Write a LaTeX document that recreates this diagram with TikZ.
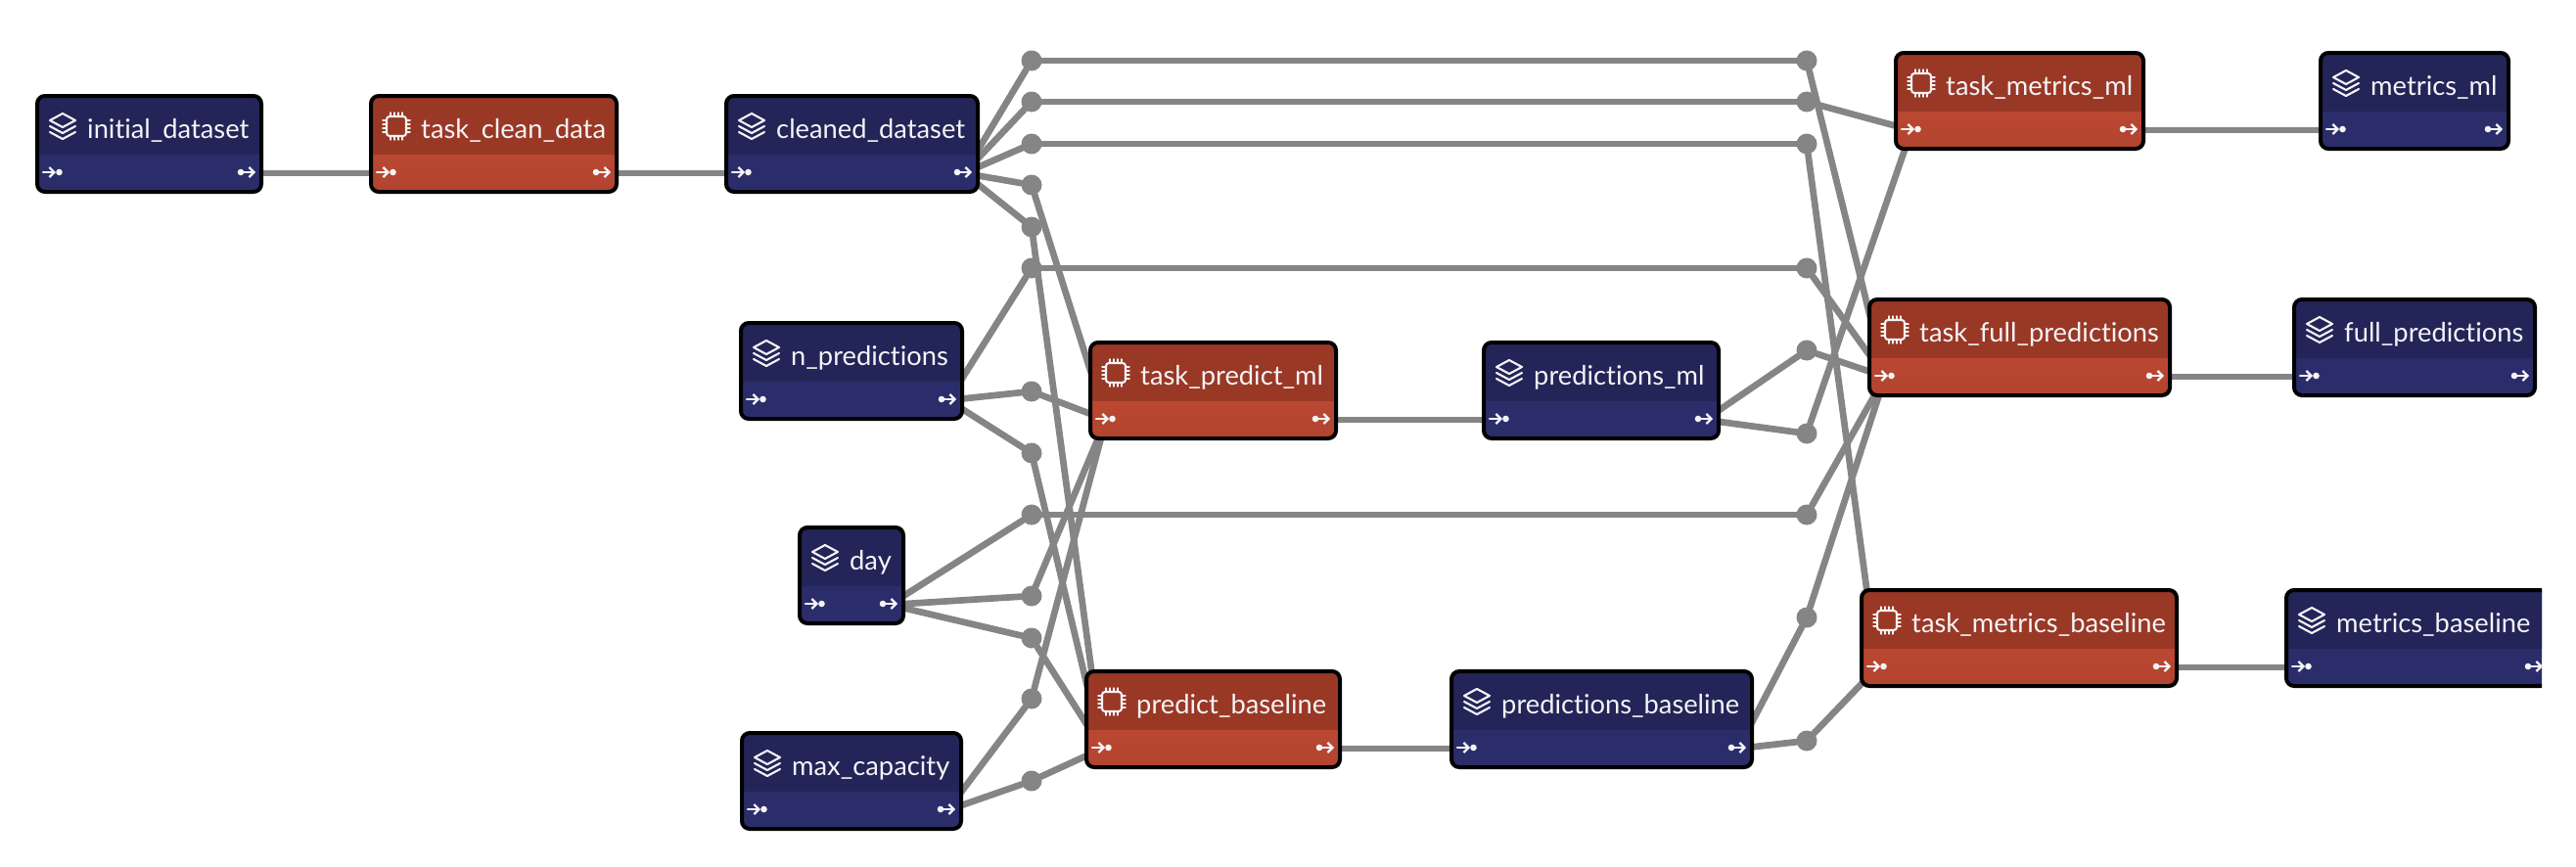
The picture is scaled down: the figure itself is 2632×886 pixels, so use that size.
\documentclass[tikz,border=0pt]{standalone}
\usepackage{fontspec}
\setmainfont{Lato}[Ligatures=NoCommon]
\usetikzlibrary{arrows.meta,backgrounds}
\definecolor{datatop}{HTML}{232558}
\definecolor{datalow}{HTML}{2B2D6B}
\definecolor{tasktop}{HTML}{9A3826}
\definecolor{tasklow}{HTML}{C74D36}
\definecolor{tasklowb}{HTML}{B2442F}
\definecolor{edgegray}{HTML}{858585}
\definecolor{inktext}{HTML}{F4F4F6}
\tikzset{
	databox/.style={draw=black, line width=4pt, rounded corners=8pt, inner sep=0pt,
		path picture={
			\fill[datalow, sharp corners] (path picture bounding box.south west) rectangle (path picture bounding box.north east);
			\fill[datatop, sharp corners] (path picture bounding box.north west) rectangle ([yshift=-60pt]path picture bounding box.north east);
		}},
	taskbox/.style={draw=black, line width=4pt, rounded corners=8pt, inner sep=0pt,
		path picture={
			\shade[sharp corners, top color=tasklow, bottom color=tasklowb] ([yshift=-60pt]path picture bounding box.north west) rectangle (path picture bounding box.south east);
			\fill[tasktop, sharp corners] (path picture bounding box.north west) rectangle ([yshift=-60pt]path picture bounding box.north east);
		}},
	dotnode/.style={circle, fill=edgegray, minimum size=21pt, inner sep=0pt},
	edge/.style={draw=edgegray, line width=6.7pt, line cap=round},
	nametext/.style={text=inktext, anchor=base west, inner sep=0pt, font=\fontsize{27.3}{32}\selectfont},
	iconline/.style={draw=inktext, line width=2.1pt, line join=round, line cap=round},
	pics/dataicon/.style={code={
		\draw[iconline] (0,-13)--(13,-6)--(0,1)--(-13,-6)--cycle;
		\draw[iconline] (-13,0)--(0,7)--(13,0);
		\draw[iconline] (-13,6)--(0,13)--(13,6);
	}},
	pics/taskicon/.style={code={
		\draw[iconline, rounded corners=3pt] (-10,-10) rectangle (10,10);
		\foreach \p in {-6,-2,2,6} {
			\draw[iconline, line width=1.4pt] (\p,-10)--(\p,-14) (\p,10)--(\p,14);
			\draw[iconline, line width=1.4pt] (-10,\p)--(-14,\p) (10,\p)--(14,\p);
		}
	}},
	pics/inport/.style={code={
		\draw[iconline, line width=2.2pt, -{Straight Barb[length=5pt,width=10pt]}] (-13,0)--(0,0);
		\fill[inktext] (3.5,0) circle (3.3);
	}},
	pics/outport/.style={code={
		\fill[inktext] (-4,0) circle (3.3);
		\draw[iconline, line width=2.2pt, -{Straight Barb[length=5pt,width=10pt]}] (-4,0)--(11,0);
	}},
}
\begin{document}
\begin{tikzpicture}[x=1pt, y=-1pt]
	\useasboundingbox (0,0) rectangle (2632,886);
	\clip (0,0) rectangle (2597,886);
	% boxes
	\foreach \nm/\xa/\xb/\yt/\kind/\txt in {
		initial/36/269/96/data/initial\_dataset,
		clean/377/632/96/task/task\_clean\_data,
		cleaned/740/1001/96/data/cleaned\_dataset,
		npred/755/985/328/data/n\_predictions,
		day/815/925/537/data/day,
		maxcap/756/984/747/data/max\_capacity,
		predml/1112/1367/348/task/task\_predict\_ml,
		predbase/1108/1371/684/task/predict\_baseline,
		outml/1514/1758/348/data/predictions\_ml,
		outbase/1481/1792/684/data/predictions\_baseline,
		metml/1935/2192/52/task/task\_metrics\_ml,
		fullp/1908/2219/304/task/task\_full\_predictions,
		metbase/1900/2226/601/task/task\_metrics\_baseline,
		resml/2369/2565/52/data/metrics\_ml,
		resfull/2342/2592/304/data/full\_predictions,
		resbase/2334/2606/601/data/metrics\_baseline%
	} {
		\node[\kind box, minimum width={(\xb-\xa-4)*1pt}, minimum height=98pt] (\nm) at ({(\xa+\xb)/2},{\yt+51}) {};
		\node[nametext] (\nm-text) at (\xa+53,\yt+45) {\txt};
		\pic at (\xa+28,\yt+33) {\kind icon};
		\pic at (\xa+21,\yt+80) {inport};
		\pic at (\xb-19,\yt+80) {outport};
		\coordinate (\nm-in) at (\xa+18,\yt+81);
		\coordinate (\nm-out) at (\xb-16,\yt+81);
	}
	% junction dots
	\foreach \y in {62,104,147,189,232,274,400,463,526,609,652,714,798}
		\node[dotnode] (l\y) at (1054,\y) {};
	\foreach \y in {62,104,147,274,358,443,526,631,757}
		\node[dotnode] (r\y) at (1846,\y) {};
	% connectors, behind the boxes
	\begin{pgfonlayer}{background}
		\foreach \a/\b in {
			initial-out/clean-in, clean-out/cleaned-in,
			cleaned-out/l62, cleaned-out/l104, cleaned-out/l147, cleaned-out/l189, cleaned-out/l232,
			npred-out/l274, npred-out/l400, npred-out/l463,
			day-out/l526, day-out/l609, day-out/l652,
			maxcap-out/l714, maxcap-out/l798,
			l62/r62, l104/r104, l147/r147, l274/r274, l526/r526,
			l189/predml-in, l400/predml-in, l609/predml-in, l714/predml-in,
			l232/predbase-in, l463/predbase-in, l652/predbase-in, l798/predbase-in,
			predml-out/outml-in, predbase-out/outbase-in,
			outml-out/r358, outml-out/r443,
			outbase-out/r631, outbase-out/r757,
			r104/metml-in, r443/metml-in,
			r62/fullp-in, r274/fullp-in, r358/fullp-in, r526/fullp-in, r631/fullp-in,
			r147/metbase-in, r757/metbase-in,
			metml-out/resml-in, fullp-out/resfull-in, metbase-out/resbase-in%
		}
			\draw[edge] (\a) -- (\b);
	\end{pgfonlayer}
\end{tikzpicture}
\end{document}
